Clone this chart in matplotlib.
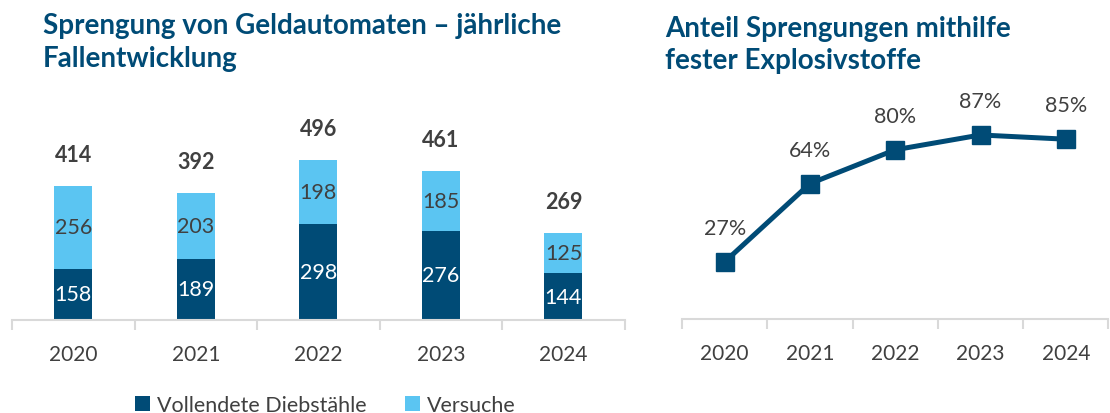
import matplotlib.pyplot as plt
import numpy as np

# Data
years = ["2020", "2021", "2022", "2023", "2024"]
vollendet = [158, 189, 298, 276, 144]
versuche = [256, 203, 198, 185, 125]
totals = [414, 392, 496, 461, 269]
anteil_fest = [27, 64, 80, 87, 85]

DARK = "#004B76"
LIGHT = "#5BC5F2"
GREY = "#404040"
AXIS = "#D9D9D9"
FONT = "Lato"

plt.rcParams["font.family"] = [FONT, "DejaVu Sans"]

fig = plt.figure(figsize=(11.1, 4.14), dpi=100)


def _style_axis(ax, n):
    for side in ["top", "right", "left"]:
        ax.spines[side].set_visible(False)
    ax.spines["bottom"].set_color(AXIS)
    ax.spines["bottom"].set_linewidth(1.5)
    ax.set_yticks([])
    ax.set_xlim(-0.5, n - 0.5)
    ax.set_xticks(np.arange(n))
    ax.set_xticklabels(years, fontsize=15, color=GREY)
    ax.set_xticks(np.arange(n + 1) - 0.5, minor=True)
    ax.tick_params(axis="x", which="major", length=0, pad=17)
    ax.tick_params(axis="x", which="minor", length=7, width=1.5, color=AXIS)


# Left: stacked bars
ax1 = fig.add_axes([0.0108, 0.2246, 0.552, 0.469])
x = np.arange(len(years))
w = 0.31
ax1.bar(x, vollendet, width=w, color=DARK, label="Vollendete Diebstähle")
ax1.bar(x, versuche, width=w, bottom=vollendet, color=LIGHT, label="Versuche")
ax1.set_ylim(0, 600)
_style_axis(ax1, len(years))

for i in range(len(years)):
    ax1.text(x[i], vollendet[i] / 2, str(vollendet[i]), ha="center", va="center",
             color="white", fontsize=15.5)
    ax1.text(x[i], vollendet[i] + versuche[i] / 2, str(versuche[i]), ha="center",
             va="center", color=GREY, fontsize=15.5)
    ax1.text(x[i], totals[i] + 97, str(totals[i]), ha="center", va="center",
             color=GREY, fontsize=15.5, fontweight="bold", clip_on=False)

fig.legend(*ax1.get_legend_handles_labels(), loc="center",
           bbox_to_anchor=(0.293, 0.02), ncol=2, frameon=False,
           fontsize=15.5, handlelength=0.7, handleheight=0.7, handletextpad=0.3,
           columnspacing=1.8, labelcolor=GREY, borderpad=0, borderaxespad=0)

fig.text(0.0387, 0.968, "Sprengung von Geldautomaten – jährliche\nFallentwicklung",
         ha="left", va="top", fontsize=20, fontweight="bold", color=DARK,
         linespacing=1.3)

# Right: line
ax2 = fig.add_axes([0.6144, 0.227, 0.3842, 0.511])
ax2.plot(x, anteil_fest, color=DARK, linewidth=3.6, marker="s", markersize=13,
         clip_on=False)
ax2.set_ylim(0, 100)
_style_axis(ax2, len(years))
for i in range(len(years)):
    ax2.text(x[i], anteil_fest[i] + 16, f"{anteil_fest[i]}%", ha="center",
             va="center", color=GREY, fontsize=15.5, clip_on=False)

fig.text(0.5995, 0.962, "Anteil Sprengungen mithilfe\nfester Explosivstoffe",
         ha="left", va="top", fontsize=20, fontweight="bold", color=DARK,
         linespacing=1.3)

fig.savefig("out.png", dpi=100)
